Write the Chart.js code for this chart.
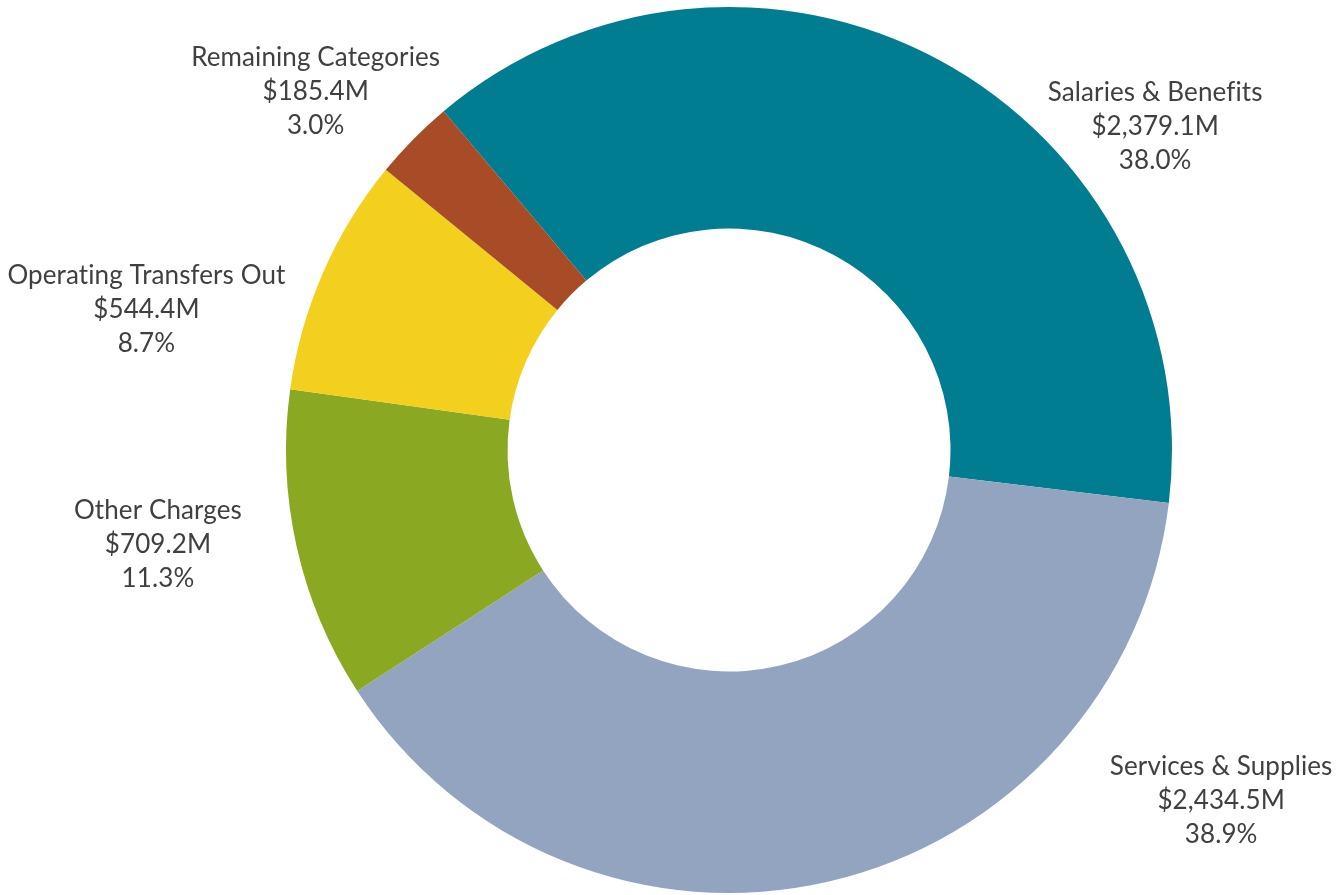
<!DOCTYPE html>
<html>
<head>
<meta charset="utf-8">
<script src="https://cdn.jsdelivr.net/npm/chart.js@4.4.1/dist/chart.umd.min.js"></script>
<style>
  html, body { margin: 0; padding: 0; background: #fff; }
  #wrap { width: 1344px; height: 895px; position: relative; }
</style>
</head>
<body>
<div id="wrap"><canvas id="grafico"></canvas></div>
<script>
// Categorie e importi (milioni di $)
const categorie = ['Salaries & Benefits', 'Services & Supplies', 'Other Charges', 'Operating Transfers Out', 'Remaining Categories'];
const importi = [2379.1, 2434.5, 709.2, 544.4, 185.4];
const percentuali = ['38.0%', '38.9%', '11.3%', '8.7%', '3.0%'];
const colori = ['#017D91', '#93A4C1', '#8AA821', '#F2D01D', '#A84B27'];

// Posizione delle etichette rispetto al centro, in frazioni del raggio esterno
const posEtichette = [
    [0.962, -0.731],
    [1.111, 0.792],
    [-1.289, 0.214],
    [-1.315, -0.318],
    [-0.933, -0.808]
];

const formatta = v => '$' + v.toLocaleString('en-US', { minimumFractionDigits: 1, maximumFractionDigits: 1 }) + 'M';

// Disegna le etichette su tre righe fuori dalla ciambella
const etichettePlugin = {
    id: 'etichette',
    afterDatasetsDraw(chart) {
        const ctx = chart.ctx;
        const meta = chart.getDatasetMeta(0);
        ctx.save();
        ctx.font = '26px Lato';
        ctx.letterSpacing = '0.1px'; // niente legature (fi, ti)
        ctx.fillStyle = '#404040';
        ctx.textAlign = 'center';
        ctx.textBaseline = 'middle';
        meta.data.forEach((arc, i) => {
            const r = arc.outerRadius;
            const x = arc.x + posEtichette[i][0] * r;
            const y = arc.y + posEtichette[i][1] * r;
            const righe = [categorie[i], formatta(importi[i]), percentuali[i]];
            righe.forEach((t, k) => ctx.fillText(t, x, y + (k - 1) * 34));
        });
        ctx.restore();
    }
};

new Chart(document.getElementById('grafico'), {
    type: 'doughnut',
    data: {
        labels: categorie,
        datasets: [{
            data: importi,
            backgroundColor: colori,
            borderWidth: 0
        }]
    },
    options: {
        responsive: true,
        maintainAspectRatio: false,
        animation: false,
        rotation: -40.1,
        cutout: '50%',
        layout: { padding: { top: 7, bottom: 2, left: 286, right: 172 } },
        plugins: {
            legend: { display: false },
            tooltip: { enabled: false }
        }
    },
    plugins: [etichettePlugin]
});
</script>
</body>
</html>
